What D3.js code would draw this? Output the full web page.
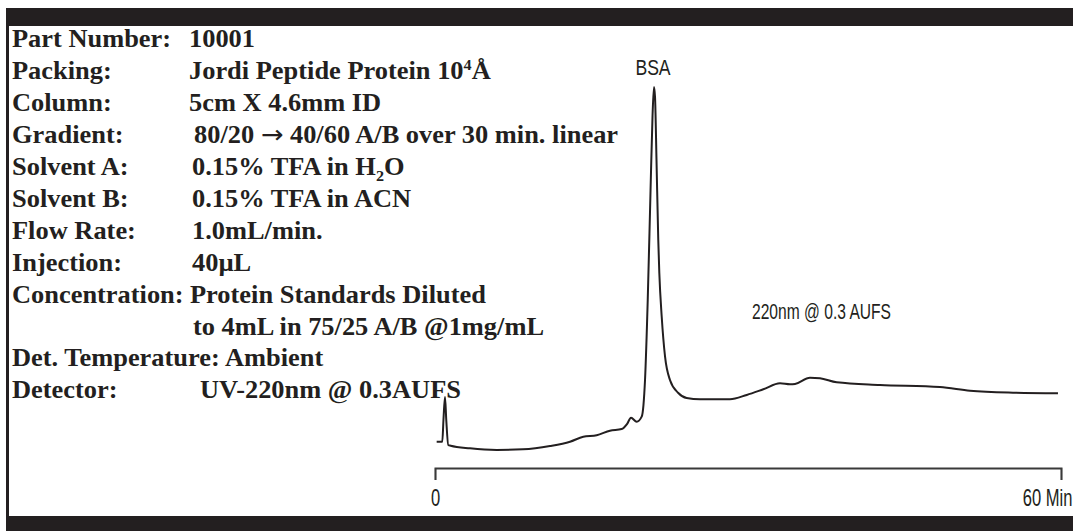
<!DOCTYPE html>
<html>
<head>
<meta charset="utf-8">
<script src="https://cdn.jsdelivr.net/npm/d3@7"></script>
<style>
  html, body { margin: 0; padding: 0; background: #fff; }
  svg { display: block; }
</style>
</head>
<body>
<svg id="chart" width="1073" height="531"></svg>
<script>
// ---------------- data ----------------
const infoLabels = [
  "Part Number:", "Packing:", "Column:", "Gradient:", "Solvent A:", "Solvent B:",
  "Flow Rate:", "Injection:", "Concentration:", "", "Det. Temperature:", "Detector:"
];
const infoValues = [
  "10001", "Jordi Peptide Protein 10^4Å", "5cm X 4.6mm ID",
  "80/20 \u2192 40/60 A/B over 30 min. linear", "0.15% TFA in H_2O", "0.15% TFA in ACN",
  "1.0mL/min.", "40µL", "Protein Standards Diluted", "to 4mL in 75/25 A/B @1mg/mL",
  "Ambient", "UV-220nm @ 0.3AUFS"
];
// retention time (min) and detector signal (mAU, relative)
const timeMin = [0.16, 0.70, 0.81, 0.96, 1.08, 1.27, 1.50, 3.35, 5.91, 8.43, 11.02, 12.94,
  14.21, 15.50, 16.77, 17.89, 18.40, 18.79, 19.33, 19.81, 19.98, 20.13, 20.39, 20.66,
  20.85, 20.99, 21.09, 21.23, 21.40, 21.50, 21.73, 22.05, 22.52, 23.32, 24.12, 25.40,
  28.27, 29.88, 31.47, 33.07, 34.03, 34.51, 35.94, 36.90, 38.50, 42.65, 48.40, 51.28,
  55.40, 59.71];
const signal = [10.8, 10.8, 28.4, 47.0, 28.4, 8.1, 7.5, 5.4, 4.1, 4.6, 7.3, 10.8,
  14.8, 16.0, 19.7, 21.1, 25.1, 30.2, 27.0, 31.1, 40.5, 60.8, 125.7, 214.9,
  275.0, 298.4, 290.0, 239.2, 174.3, 147.6, 112.1, 79.7, 60.8, 50.3, 46.2, 45.2,
  45.2, 48.7, 53.3, 58.1, 57.3, 57.6, 62.7, 62.2, 58.9, 56.8, 55.1, 52.1,
  50.5, 50.0];
const xTickValues = [0, 60];
const xTickLabels = ["0", "60 Min"];
const peakLabel = {text: "BSA", time: 20.99};
const detLabel = "220nm @ 0.3 AUFS";

// ---------------- layout ----------------
const W = 1073, H = 531;
const ink = "#231f20";
const narrow = "'Liberation Sans',Arial,sans-serif";
const svg = d3.select("#chart");

// frame
svg.append("rect").attr("x", 6).attr("y", 8).attr("width", W - 6).attr("height", 18).attr("fill", ink);
svg.append("rect").attr("x", 6).attr("y", 8).attr("width", 3).attr("height", 510).attr("fill", ink);
svg.append("rect").attr("x", 6).attr("y", 516).attr("width", W - 6).attr("height", H - 516).attr("fill", ink);

// info text block
const sx = 1.078;
const valueX = [189, 189, 189, 194, 192, 192, 192, 192, 190, 193, null, 200];
const baseY = 47.5, pitch = 31.9;
const tg = svg.append("g").attr("transform", `scale(${sx},1)`)
  .style("font-family", "'Liberation Serif','Times New Roman',serif")
  .style("font-weight", "bold").style("font-size", "24.5px").attr("fill", ink);

function addRich(textSel, str) {
  const parts = str.split(/([_^]\w|\u2192)/).filter(p => p);
  let pendingDy = 0;
  parts.forEach(p => {
    let ts;
    if (p[0] === "^" || p[0] === "_") {
      const shift = p[0] === "^" ? -9 : 6;
      ts = textSel.append("tspan").text(p[1]).style("font-size", "15px").attr("dy", shift + pendingDy);
      pendingDy = -shift;
      return;
    } else if (p === "\u2192") {
      ts = textSel.append("tspan").text(p)
        .style("font-family", "'DejaVu Sans',sans-serif").style("font-weight", "normal")
        .style("font-size", "25px");
    } else {
      ts = textSel.append("tspan").text(p);
    }
    if (pendingDy) { ts.attr("dy", pendingDy); pendingDy = 0; }
  });
}

infoLabels.forEach((lab, i) => {
  const y = baseY + pitch * i;
  const vx = valueX[i];
  if (vx === null) {
    tg.append("text").attr("x", 12 / sx).attr("y", y).text(lab + " " + infoValues[i]);
  } else {
    if (lab) tg.append("text").attr("x", 12 / sx).attr("y", y).text(lab);
    const t = tg.append("text").attr("x", vx / sx).attr("y", y);
    addRich(t, infoValues[i]);
  }
});

// chromatogram
const x = d3.scaleLinear().domain([0, 60]).range([435, 1061]);
const y = d3.scaleLinear().domain([0, 300]).range([455, 85]);
const pts = timeMin.map((t, i) => [t, signal[i]]);

svg.append("path")
  .datum(pts)
  .attr("fill", "none").attr("stroke", ink).attr("stroke-width", 2)
  .attr("stroke-linejoin", "round")
  .attr("d", d3.line().x(d => x(d[0])).y(d => y(d[1])).curve(d3.curveMonotoneX));

// x axis
const axisY = 468;
const lblScale = 0.72;
const axis = d3.axisBottom(x).tickValues(xTickValues)
  .tickFormat((d, i) => xTickLabels[i]).tickSizeInner(12).tickSizeOuter(12).tickPadding(10);
const ag = svg.append("g").attr("transform", `translate(0,${axisY})`).call(axis);
ag.select(".domain").attr("stroke", "#3a3a3a").attr("stroke-width", 2);
ag.selectAll(".tick line").attr("stroke", "#3a3a3a").attr("stroke-width", 1.2);
ag.selectAll(".tick text")
  .style("font-family", narrow)
  .style("font-size", "23px").attr("fill", ink)
  .attr("transform", `scale(${lblScale},1)`);
ag.selectAll(".tick text").filter((d, i) => i === 1)
  .attr("text-anchor", "end").attr("x", 11 / lblScale);

// labels
svg.append("g").attr("transform", `translate(${x(peakLabel.time) - 1},75) scale(0.8,1)`)
  .append("text").attr("text-anchor", "middle")
  .style("font-family", narrow)
  .style("font-size", "22px").attr("fill", ink).text(peakLabel.text);
svg.append("g").attr("transform", "translate(752,319) scale(0.71,1)")
  .append("text")
  .style("font-family", narrow)
  .style("font-size", "22px").attr("fill", ink).text(detLabel);
</script>
</body>
</html>
